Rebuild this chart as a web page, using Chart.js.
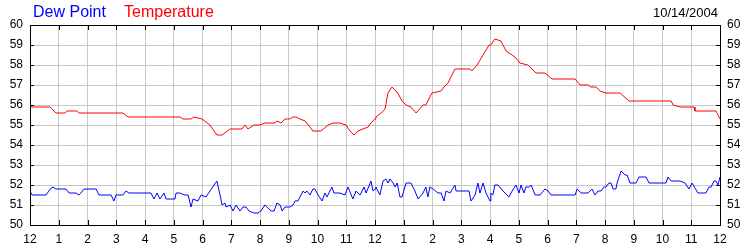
<!DOCTYPE html>
<html>
<head>
<meta charset="utf-8">
<script src="https://cdn.jsdelivr.net/npm/chart.js@4.4.1/dist/chart.umd.min.js"></script>
<style>
  html, body { margin: 0; padding: 0; background: #fff; }
  #wrap { position: relative; width: 750px; height: 250px; }
  canvas { position: absolute; left: 0; top: 0; }
  .hdr { position: absolute; font-family: "Liberation Sans", Arial, sans-serif; white-space: nowrap; line-height: 1; }
  #dew { left: 33px; top: 4px; font-size: 16px; color: #0000ff; }
  #tmp { left: 124px; top: 4px; font-size: 16px; color: #ff0000; }
  #date { right: 32px; top: 6px; font-size: 13px; color: #000; }
</style>
</head>
<body>
<div id="wrap">
  <canvas id="c" width="750" height="250"></canvas>
  <span class="hdr" id="dew">Dew Point</span>
  <span class="hdr" id="tmp">Temperature</span>
  <span class="hdr" id="date">10/14/2004</span>
</div>
<script>
// ---- data (hours after midnight, values in °F) ----
const tempHours = [0,0.70,0.90,1.22,1.29,1.63,1.70,3.23,3.41,5.22,5.32,5.60,5.70,5.98,6.26,6.50,6.68,6.96,7.37,7.48,7.58,7.79,8.00,8.17,8.52,8.59,8.73,8.87,9.04,9.15,9.25,9.39,9.57,9.74,9.84,10.12,10.37,10.54,10.78,10.99,11.13,11.27,11.41,11.58,11.76,11.86,12.00,12.03,12.21,12.35,12.45,12.59,12.73,12.83,12.94,13.08,13.25,13.43,13.67,13.77,13.98,14.30,14.40,14.54,14.78,15.30,15.37,15.55,15.76,15.97,16.03,16.17,16.38,16.56,16.87,17.04,17.32,17.60,17.91,18.16,18.96,19.13,19.41,19.51,19.69,19.83,20.03,20.52,20.84,22.30,22.37,22.61,23.10,23.13,23.86,24.00];
const tempValues = [55.9,55.9,55.6,55.6,55.7,55.7,55.6,55.6,55.4,55.4,55.3,55.3,55.4,55.3,55.0,54.5,54.5,54.8,54.8,55.0,54.8,55.0,55.0,55.1,55.1,55.2,55.1,55.3,55.3,55.4,55.4,55.3,55.2,54.9,54.7,54.7,55.0,55.1,55.1,55.0,54.7,54.5,54.7,54.8,54.9,55.1,55.3,55.4,55.6,55.8,56.6,56.9,56.7,56.5,56.2,56.0,55.9,55.6,56.0,56.0,56.6,56.7,56.9,57.1,57.8,57.8,57.7,58.0,58.5,59.0,59.0,59.3,59.2,58.7,58.4,58.1,58.0,57.6,57.6,57.3,57.3,57.0,57.0,56.9,56.9,56.7,56.6,56.6,56.2,56.2,56.0,55.9,55.9,55.7,55.7,55.3];

const dewHours = [
  0,0.07,0.56,0.70,0.80,0.90,1.25,1.36,1.60,1.70,1.77,1.88,2.30,2.40,2.82,2.92,2.99,3.23,3.34,3.44,
  4.21,4.31,4.42,4.52,4.66,4.73,5.04,5.08,5.22,5.36,5.50,5.60,5.67,5.84,5.95,6.12,6.26,6.50,6.61,6.68,6.78,6.82,6.96,7.06,7.17,7.30,7.41,7.51,7.62,7.79,
  7.93,8.03,8.17,8.24,8.38,8.49,8.59,8.70,8.77,8.87,9.04,9.15,9.22,9.32,9.50,9.57,9.63,9.74,9.84,9.91,10.02,10.16,10.26,10.33,10.50,10.57,10.78,10.96,11.06,11.23,11.34,11.48,11.62,11.69,11.86,11.93,12.00,
  12.03,12.17,12.28,12.38,12.45,12.52,12.63,12.70,12.77,12.87,12.94,13.08,13.25,13.39,13.50,13.67,13.77,13.84,13.91,14.02,14.19,14.30,14.40,14.47,14.61,14.78,14.82,15.27,15.34,15.48,15.58,15.65,15.76,15.86,15.93,16.00,
  16.03,16.10,16.17,16.28,16.45,16.66,16.77,16.90,17.01,17.08,17.18,17.25,17.36,17.43,17.57,17.74,17.91,18.02,18.12,18.96,19.03,19.17,19.41,19.55,19.65,19.76,19.86,19.97,
  20.03,20.14,20.21,20.28,20.38,20.42,20.56,20.70,20.77,20.87,21.08,21.18,21.43,21.53,22.12,22.19,22.30,22.61,22.78,22.92,23.03,23.23,23.51,23.62,23.69,23.79,23.86,23.93,24.00];
const dewValues = [
  51.7,51.5,51.5,51.8,51.9,51.8,51.8,51.6,51.6,51.5,51.6,51.8,51.8,51.5,51.5,51.2,51.5,51.5,51.7,51.6,
  51.6,51.3,51.6,51.3,51.6,51.3,51.3,51.6,51.6,51.5,51.5,50.9,51.3,51.2,51.5,51.4,51.7,52.2,51.5,51.0,51.1,50.9,51.0,50.7,51.0,50.7,50.9,50.9,50.7,50.6,
  50.6,50.7,51.0,50.9,50.7,50.7,51.1,51.0,50.7,50.9,50.9,51.0,51.2,51.2,51.7,51.6,51.7,51.5,51.8,51.8,51.5,51.2,51.6,51.4,51.9,51.6,51.6,51.5,51.9,51.3,51.7,51.5,51.9,51.6,52.2,51.7,51.8,
  51.9,51.5,52.2,52.3,52.1,52.3,52.1,51.9,52.1,51.4,51.4,52.1,52.1,51.7,51.3,51.6,51.9,51.4,51.9,51.8,51.6,51.6,51.2,51.7,51.6,52.0,51.7,51.7,51.2,51.5,52.1,51.6,52.1,51.6,51.4,51.2,
  51.6,51.5,52.0,52.0,51.7,51.4,51.7,52.0,51.6,52.0,51.6,51.9,51.9,52.0,51.5,51.5,51.8,51.7,51.5,51.5,51.8,51.6,51.6,51.8,51.5,51.7,51.7,51.9,
  51.9,52.1,52.1,51.8,51.8,52.1,52.7,52.5,52.5,52.1,52.1,52.4,52.4,52.1,52.1,52.4,52.2,52.2,52.1,51.8,52.1,51.6,51.6,51.9,51.9,52.2,52.2,52.0,52.4];

const hourLabels = ['12','1','2','3','4','5','6','7','8','9','10','11','12','1','2','3','4','5','6','7','8','9','10','11','12'];
const yMin = 50, yMax = 60;

const zip = (xs, ys) => xs.map((x, i) => ({ x: x, y: ys[i] }));

const frame = {
  id: 'frame',
  afterDraw(chart) {
    const ctx = chart.ctx, a = chart.chartArea;
    const xs = chart.scales.x, ys = chart.scales.y;
    ctx.save();
    ctx.strokeStyle = '#000';
    ctx.lineWidth = 1;
    ctx.beginPath();
    for (let h = 1; h < 24; h++) {
      const px = Math.round(xs.getPixelForValue(h)) + 0.5;
      ctx.moveTo(px, a.top); ctx.lineTo(px, a.top + 5);
      ctx.moveTo(px, a.bottom); ctx.lineTo(px, a.bottom - 5);
    }
    for (let v = yMin + 1; v < yMax; v++) {
      const py = Math.round(ys.getPixelForValue(v)) + 0.5;
      ctx.moveTo(a.left, py); ctx.lineTo(a.left + 4, py);
      ctx.moveTo(a.right, py); ctx.lineTo(a.right - 4, py);
    }
    ctx.stroke();
    ctx.strokeRect(Math.round(a.left) + 0.5, Math.round(a.top) + 0.5,
                   Math.round(a.right - a.left), Math.round(a.bottom - a.top));
    ctx.restore();
  }
};

const font = { family: '"Liberation Sans", Arial, sans-serif', size: 12 };
const gridStyle = { color: '#c8c8c8', lineWidth: 1, drawTicks: false };

new Chart(document.getElementById('c'), {
  type: 'line',
  data: {
    datasets: [
      { label: 'Temperature', data: zip(tempHours, tempValues), borderColor: '#ff0000', borderWidth: 1, pointRadius: 0, tension: 0, yAxisID: 'y' },
      { label: 'Dew Point', data: zip(dewHours, dewValues), borderColor: '#0000ff', borderWidth: 1, pointRadius: 0, tension: 0, yAxisID: 'y' }
    ]
  },
  options: {
    responsive: false,
    animation: false,
    devicePixelRatio: 1,
    layout: { padding: { top: 25, left: 0, right: 0, bottom: 0 } },
    plugins: { legend: { display: false }, title: { display: false }, tooltip: { enabled: false } },
    scales: {
      x: {
        type: 'linear', min: 0, max: 24,
        grid: gridStyle,
        border: { display: false },
        afterFit: s => { s.height = 25; },
        afterBuildTicks: s => { s.ticks = hourLabels.map((_, i) => ({ value: i })); },
        ticks: { font: font, color: '#000', padding: 7, maxRotation: 0, autoSkip: false,
                 callback: v => hourLabels[v] }
      },
      y: {
        position: 'left', min: yMin, max: yMax,
        grid: gridStyle,
        border: { display: false },
        afterFit: s => { s.width = 30; },
        ticks: { font: font, color: '#000', stepSize: 1, padding: 7 }
      },
      y2: {
        position: 'right', min: yMin, max: yMax,
        grid: { display: false, drawTicks: false },
        border: { display: false },
        afterFit: s => { s.width = 30; },
        ticks: { font: font, color: '#000', stepSize: 1, padding: 7 }
      }
    }
  },
  plugins: [frame]
});
</script>
</body>
</html>
